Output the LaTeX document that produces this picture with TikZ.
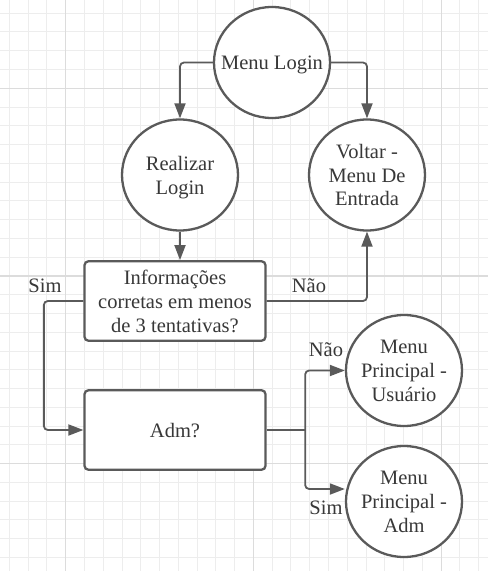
\documentclass[tikz,border=0pt]{standalone}
\usepackage{fontspec}
\setmainfont{Liberation Serif}
\usetikzlibrary{shapes.geometric,arrows.meta}
\definecolor{ln}{HTML}{5A5A5A}
\definecolor{txt}{HTML}{383838}
\definecolor{gmin}{HTML}{EDEDED}
\definecolor{gmaj}{HTML}{DCDCDC}
\begin{document}
\begin{tikzpicture}[x=1pt,y=-1pt,
  every node/.style={font=\fontsize{20.5}{23.8}\selectfont, text=txt},
  circ/.style={ellipse, draw=ln, line width=2.3pt, fill=white, minimum width=116pt, minimum height=111pt, inner sep=-14pt, align=center, text depth=0pt},
  box/.style={rectangle, rounded corners=4pt, draw=ln, line width=2.3pt, fill=white, minimum width=181pt, minimum height=79.5pt, inner sep=0pt, align=center, text depth=0pt},
  conn/.style={draw=ln, line width=1.8pt, rounded corners=4pt, -{Triangle[length=15pt,width=11pt]}},
  plain/.style={draw=ln, line width=1.8pt},
  lbl/.style={inner sep=0pt},
  gridmin/.style={draw=gmin, line width=1pt},
  gridmaj/.style={draw=gmaj, line width=1.2pt}
]
\useasboundingbox (0,0) rectangle (488,571);
\fill[white] (0,0) rectangle (488,571);
% grid
\foreach \i in {0,...,25} \draw[gridmin] ({9.4+\i*18.77},0) -- ({9.4+\i*18.77},571);
\foreach \j in {0,...,29} \draw[gridmin] (0,{13.2+\j*18.77}) -- (488,{13.2+\j*18.77});
\foreach \x in {65.7,253.4,441.1} \draw[gridmaj] (\x,0) -- (\x,571);
\foreach \y in {88.3,276,463.7} \draw[gridmaj] (0,\y) -- (488,\y);

% nodes
\node[circ] (ml) at (272,62.5) {Menu Login};
\node[circ] (rl) at (180,175) {Realizar\\Login};
\node[circ] (vm) at (367,175) {Voltar -\\Menu De\\Entrada};
\node[box] (info) at (175,301) {Informações\\corretas em menos\\de 3 tentativas?};
\node[box] (adm) at (175,430) {Adm?};
\node[circ] (mpu) at (404,370.5) {Menu\\Principal -\\Usuário};
\node[circ] (mpa) at (404,501.5) {Menu\\Principal -\\Adm};

% connectors
\draw[conn] (ml.west) -| (rl.north);
\draw[conn] (ml.east) -| (vm.north);
\draw[conn] (rl.south) -- (rl.south |- info.north);
\draw[conn] (info.east) -| (vm.south);
\draw[conn] (info.west) -- ++(-39.5,0) |- (adm.west);
\draw[plain] (adm.east) -- ++(38.5,0) coordinate (sp);
\draw[conn] (sp) |- (mpu.west);
\draw[conn] (sp) |- ([yshift=12.5pt]mpa.west);

% labels
\node[lbl] (sim1) at (45,285.7) {Sim};
\node[lbl] (nao1) at (309,285.7) {Não};
\node[lbl] (nao2) at (326,350) {Não};
\node[lbl] (sim2) at (326,508) {Sim};
\end{tikzpicture}
\end{document}
